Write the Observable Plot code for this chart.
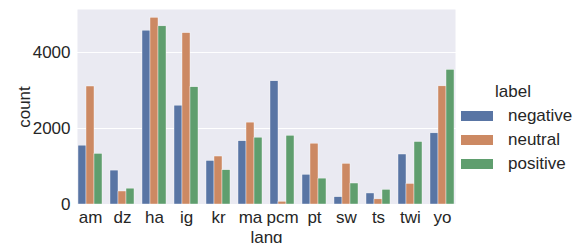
<!DOCTYPE html>
<html>
<head>
<meta charset="utf-8">
<script src="https://cdn.jsdelivr.net/npm/d3@7"></script>
<script src="https://cdn.jsdelivr.net/npm/@observablehq/plot@0.6"></script>
<style>
  body { margin: 0; background: white; }
  #wrap { position: relative; width: 573px; height: 243px; font-family: "Liberation Sans", Arial, sans-serif; }
  #legend { position: absolute; left: 461px; top: 80px; font-size: 17px; color: #262626; }
  #legend .title { margin-left: 34px; height: 24px; line-height: 24px; }
  #legend .row { display: flex; align-items: center; height: 24px; }
  #legend .sw { width: 32px; height: 10px; margin-right: 15px; }
</style>
</head>
<body>
<div id="wrap"><div id="legend"></div></div>
<script>
const langs = ["am", "dz", "ha", "ig", "kr", "ma", "pcm", "pt", "sw", "ts", "twi", "yo"];
const labels = ["negative", "neutral", "positive"];
const negative = [1548, 892, 4573, 2600, 1146, 1664, 3241, 782, 192, 290, 1315, 1872];
const neutral  = [3104, 342, 4912, 4508, 1262, 2154, 72, 1600, 1070, 135, 542, 3108];
const positive = [1332, 417, 4687, 3084, 902, 1758, 1808, 681, 552, 386, 1644, 3542];
const colors = ["#5975a4", "#cc8963", "#5f9e6e"];
const yTicks = [0, 2000, 4000];

const series = [negative, neutral, positive];
const data = [];
langs.forEach((lang, i) => labels.forEach((label, j) => data.push({lang, label, count: series[j][i]})));

const chart = Plot.plot({
  width: 573,
  height: 243,
  marginLeft: 74,
  marginRight: 115,
  marginTop: 9,
  marginBottom: 39,
  style: {fontFamily: "'Liberation Sans', Arial, sans-serif", fontSize: "17px", color: "#262626", background: "transparent"},
  fx: {domain: langs, paddingInner: 0.2, paddingOuter: 0.1, label: "lang", labelAnchor: "center", labelOffset: 38, tickSize: 0, tickPadding: 6},
  x: {domain: labels, axis: null, padding: 0},
  y: {domain: [0, 5130], ticks: yTicks, tickFormat: "d", tickSize: 0, tickPadding: 7, label: "count", labelAnchor: "center", labelOffset: 60, labelArrow: "none"},
  color: {domain: labels, range: colors},
  marks: [
    Plot.frame({fill: "#EAEAF2", stroke: null, facet: "super"}),
    Plot.ruleY(yTicks, {stroke: "white", strokeOpacity: 1, strokeWidth: 1, insetLeft: -3.3, insetRight: -3.3}),
    Plot.barY(data, {fx: "lang", x: "label", y: "count", fill: "label", stroke: "white", strokeWidth: 0.4})
  ]
});
document.getElementById("wrap").prepend(chart);

const legend = document.getElementById("legend");
const t = document.createElement("div");
t.className = "title";
t.textContent = "label";
legend.appendChild(t);
labels.forEach((l, i) => {
  const r = document.createElement("div");
  r.className = "row";
  r.innerHTML = `<span class="sw" style="background:${colors[i]}"></span><span>${l}</span>`;
  legend.appendChild(r);
});
</script>
</body>
</html>
